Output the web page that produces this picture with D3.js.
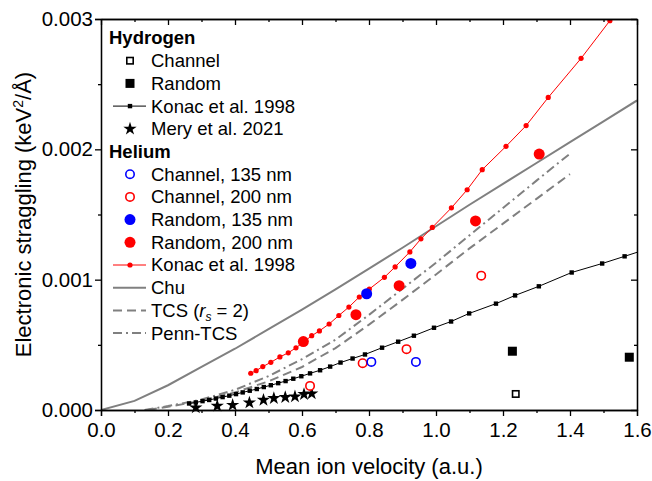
<!DOCTYPE html>
<html>
<head>
<meta charset="utf-8">
<script src="https://cdn.jsdelivr.net/npm/d3@7"></script>
<style>
  body { margin: 0; background: #fff; }
  text { font-family: Arial, "Liberation Sans", sans-serif; }
</style>
</head>
<body>
<div id="chart"></div>
<script>
// Straggling values are kept in units of 1e-3 keV^2/Å (axis labels convert back)

// ---- Hydrogen ----
const hChannelV = [1.238]
const hChannelS = [0.123]
const hRandomV = [1.228, 1.577]
const hRandomS = [0.451, 0.405]

const konacHV = [0.263, 0.283, 0.303, 0.323, 0.343, 0.363, 0.383, 0.403, 0.423, 0.444, 0.465, 0.486,
  0.507, 0.529, 0.551, 0.574, 0.598, 0.624, 0.654, 0.684, 0.715, 0.751, 0.788, 0.839, 0.887, 0.934,
  0.994, 1.045, 1.099, 1.179, 1.236, 1.307, 1.405, 1.496, 1.563, 1.66]
const konacHS = [0.050, 0.058, 0.068, 0.077, 0.088, 0.099, 0.110, 0.122, 0.135, 0.148, 0.161, 0.176,
  0.190, 0.206, 0.222, 0.240, 0.259, 0.281, 0.305, 0.333, 0.364, 0.395, 0.426, 0.478, 0.524, 0.570,
  0.631, 0.679, 0.741, 0.816, 0.879, 0.949, 1.055, 1.124, 1.179, 1.26]

const meryV = [0.283, 0.347, 0.393, 0.443, 0.485, 0.516, 0.550, 0.579, 0.606, 0.629]
const meryS = [0.018, 0.031, 0.038, 0.056, 0.077, 0.090, 0.098, 0.103, 0.121, 0.126]

// ---- Helium ----
const heCh135V = [0.807, 0.940]
const heCh135S = [0.369, 0.369]
const heCh200V = [0.624, 0.781, 0.912, 1.135]
const heCh200S = [0.185, 0.359, 0.467, 1.031]
const heRa135V = [0.793, 0.925]
const heRa135S = [0.892, 1.125]
const heRa200V = [0.604, 0.761, 0.890, 1.118, 1.308]
const heRa200S = [0.525, 0.731, 0.954, 1.451, 1.964]

const konacHeV = [0.447, 0.463, 0.483, 0.507, 0.534, 0.559, 0.582, 0.605, 0.629, 0.652, 0.681, 0.710,
  0.740, 0.771, 0.801, 0.846, 0.878, 0.922, 0.955, 0.989, 1.046, 1.093, 1.138, 1.209, 1.269, 1.335,
  1.433, 1.519]
const konacHeS = [0.282, 0.302, 0.333, 0.366, 0.407, 0.439, 0.477, 0.522, 0.570, 0.607, 0.660, 0.725,
  0.790, 0.867, 0.928, 1.018, 1.098, 1.213, 1.313, 1.401, 1.551, 1.690, 1.844, 2.023, 2.182, 2.398,
  2.698, 2.987]

// ---- theory curves ----
const chuV = [0, 0.1, 0.2, 0.3, 0.4, 0.5, 0.6, 0.7, 0.8, 0.9, 1.0, 1.1, 1.2, 1.3, 1.4, 1.5, 1.6]
const chuS = [0, 0.07, 0.19, 0.33, 0.47, 0.62, 0.77, 0.925, 1.085, 1.245, 1.41, 1.575, 1.735, 1.895, 2.055, 2.215, 2.375]

const tcsV = [0.14, 0.2, 0.3, 0.4, 0.5, 0.6, 0.7, 0.8, 0.9, 1.0, 1.1, 1.2, 1.3, 1.4]
const tcsS = [0, 0.025, 0.07, 0.135, 0.22, 0.33, 0.475, 0.655, 0.845, 1.04, 1.24, 1.43, 1.62, 1.81]

const pennV = [0.13, 0.2, 0.3, 0.4, 0.5, 0.6, 0.7, 0.8, 0.9, 1.0, 1.1, 1.2, 1.3, 1.4]
const pennS = [0, 0.03, 0.08, 0.155, 0.26, 0.39, 0.54, 0.73, 0.93, 1.13, 1.34, 1.55, 1.76, 1.967]

// ---- axes ----
const xTicks = [0, 0.2, 0.4, 0.6, 0.8, 1.0, 1.2, 1.4, 1.6]
const xMinor = [0.1, 0.3, 0.5, 0.7, 0.9, 1.1, 1.3, 1.5]
const yTicks = [0, 1, 2, 3]
const yMinor = [0.5, 1.5, 2.5]

const legendLabels = ["Channel", "Random", "Konac et al. 1998", "Mery et al. 2021",
  "Channel, 135 nm", "Channel, 200 nm", "Random, 135 nm", "Random, 200 nm", "Konac et al. 1998",
  "Chu", "TCS", "Penn-TCS"]

// Dimensiones
const anchoTotal = 652
const altoTotal = 481
const margins = { top: 19, right: 15, bottom: 71, left: 101 }
const ancho = anchoTotal - margins.left - margins.right
const alto = altoTotal - margins.top - margins.bottom

const svg = d3.select("#chart")
  .append("svg")
  .attr("width", anchoTotal)
  .attr("height", altoTotal)

const g = svg.append("g")
  .attr("transform", `translate(${margins.left},${margins.top})`)

const x = d3.scaleLinear().domain([0, 1.6]).range([0, ancho])
const y = d3.scaleLinear().domain([0, 3]).range([alto, 0])

svg.append("defs").append("clipPath").attr("id", "clip")
  .append("rect").attr("width", ancho).attr("height", alto)

const pairs = (vs, ss) => vs.map((v, i) => [v, ss[i]])
const line = d3.line().x(d => x(d[0])).y(d => y(d[1]))

const RED = "#ff0000", BLUE = "#0000ff", GRAY = "#808080"

// ---- lines ----
const plot = g.append("g").attr("clip-path", "url(#clip)")

plot.append("path").datum(pairs(chuV, chuS)).attr("d", line)
  .attr("fill", "none").attr("stroke", GRAY).attr("stroke-width", 2)
plot.append("path").datum(pairs(tcsV, tcsS)).attr("d", line)
  .attr("fill", "none").attr("stroke", GRAY).attr("stroke-width", 2).attr("stroke-dasharray", "9,5")
plot.append("path").datum(pairs(pennV, pennS)).attr("d", line)
  .attr("fill", "none").attr("stroke", GRAY).attr("stroke-width", 2).attr("stroke-dasharray", "9,4,2,4")
plot.append("path").datum(pairs(konacHV, konacHS)).attr("d", line)
  .attr("fill", "none").attr("stroke", "#000").attr("stroke-width", 1)
plot.selectAll(".kh").data(pairs(konacHV, konacHS)).enter().append("rect")
  .attr("x", d => x(d[0]) - 2.2).attr("y", d => y(d[1]) - 2.2)
  .attr("width", 4.4).attr("height", 4.4).attr("fill", "#000")
plot.append("path").datum(pairs(konacHeV, konacHeS)).attr("d", line)
  .attr("fill", "none").attr("stroke", RED).attr("stroke-width", 1)
plot.selectAll(".khe").data(pairs(konacHeV, konacHeS)).enter().append("circle")
  .attr("cx", d => x(d[0])).attr("cy", d => y(d[1])).attr("r", 2.6).attr("fill", RED)

// ---- markers ----
const star = d3.symbol().type(d3.symbolStar).size(55)
g.selectAll(".mery").data(pairs(meryV, meryS)).enter().append("path")
  .attr("d", star).attr("transform", d => `translate(${x(d[0])},${y(d[1])})`).attr("fill", "#000")

const circles = (vs, ss, color, filled) => {
  g.append("g").selectAll("circle").data(pairs(vs, ss)).enter().append("circle")
    .attr("cx", d => x(d[0])).attr("cy", d => y(d[1]))
    .attr("r", filled ? 5.5 : 4.2)
    .attr("fill", filled ? color : "#fff")
    .attr("stroke", filled ? "none" : color)
    .attr("stroke-width", 1.6)
}
circles(heCh200V, heCh200S, RED, false)
circles(heCh135V, heCh135S, BLUE, false)
circles(heRa200V, heRa200S, RED, true)
circles(heRa135V, heRa135S, BLUE, true)

g.selectAll(".hr").data(pairs(hRandomV, hRandomS)).enter().append("rect")
  .attr("x", d => x(d[0]) - 4.5).attr("y", d => y(d[1]) - 4.5)
  .attr("width", 9).attr("height", 9).attr("fill", "#000")
g.selectAll(".hc").data(pairs(hChannelV, hChannelS)).enter().append("rect")
  .attr("x", d => x(d[0]) - 3.2).attr("y", d => y(d[1]) - 3.2)
  .attr("width", 6.4).attr("height", 6.4).attr("fill", "#fff").attr("stroke", "#000").attr("stroke-width", 1.6)

// ---- axes ----
const fmtY = d => (d / 1000).toFixed(3)
const fmtX = d => d.toFixed(1)
const styleAxis = (sel) => {
  sel.selectAll("path").attr("stroke", "#000").attr("stroke-width", 1.3)
  sel.selectAll("line").attr("stroke", "#000").attr("stroke-width", 1.3)
  sel.selectAll("text").attr("font-size", "20.5px").attr("fill", "#000")
}
g.append("g").attr("transform", `translate(0,${alto})`)
  .call(d3.axisBottom(x).tickValues(xTicks).tickFormat(fmtX).tickSize(6).tickPadding(6))
  .call(styleAxis)
g.append("g").attr("transform", `translate(0,${alto})`)
  .call(d3.axisBottom(x).tickValues(xMinor).tickFormat("").tickSize(3).tickSizeOuter(0))
  .call(styleAxis)
g.append("g")
  .call(d3.axisLeft(y).tickValues(yTicks).tickFormat(fmtY).tickSize(6).tickPadding(2))
  .call(styleAxis)
g.append("g")
  .call(d3.axisLeft(y).tickValues(yMinor).tickFormat("").tickSize(3).tickSizeOuter(0))
  .call(styleAxis)
g.append("g")
  .call(d3.axisTop(x).tickValues(xTicks).tickFormat("").tickSizeInner(-6).tickSizeOuter(0))
  .call(styleAxis)
g.append("g")
  .call(d3.axisTop(x).tickValues(xMinor).tickFormat("").tickSizeInner(-3).tickSizeOuter(0))
  .call(styleAxis)
g.append("g").attr("transform", `translate(${ancho},0)`)
  .call(d3.axisRight(y).tickValues(yTicks).tickFormat("").tickSizeInner(-6).tickSizeOuter(0))
  .call(styleAxis)
g.append("g").attr("transform", `translate(${ancho},0)`)
  .call(d3.axisRight(y).tickValues(yMinor).tickFormat("").tickSizeInner(-3).tickSizeOuter(0))
  .call(styleAxis)

// axis titles
svg.append("text")
  .attr("x", margins.left + ancho / 2).attr("y", 474)
  .attr("text-anchor", "middle").attr("font-size", "22px")
  .text("Mean ion velocity (a.u.)")

const yTitle = svg.append("text")
  .attr("transform", `translate(31,${margins.top + alto / 2}) rotate(-90)`)
  .attr("text-anchor", "middle").attr("font-size", "22px")
yTitle.append("tspan").text("Electronic straggling (keV")
yTitle.append("tspan").attr("font-size", "14px").attr("dy", -8).text("2")
yTitle.append("tspan").attr("dy", 8).text("/Å)")

// ---- legend ----
const leg = svg.append("g").attr("font-size", "18.5px")
const legRow = 22.7
const legY0 = 38
const symX = 130
const textX = 151

leg.append("text").attr("x", 109).attr("y", legY0).attr("dy", "0.35em")
  .attr("font-weight", "bold").text("Hydrogen")
leg.append("text").attr("x", 109).attr("y", legY0 + legRow * 5).attr("dy", "0.35em")
  .attr("font-weight", "bold").text("Helium")

const rowOf = (i) => legY0 + legRow * (i < 4 ? i + 1 : i + 2)
legendLabels.forEach((lab, i) => {
  const yy = rowOf(i)
  const t = leg.append("text").attr("x", textX).attr("y", yy).attr("dy", "0.35em")
  if (lab === "TCS") {
    t.append("tspan").text("TCS (")
    t.append("tspan").attr("font-style", "italic").text("r")
    t.append("tspan").attr("font-style", "italic").attr("font-size", "12px").attr("dy", 4).text("s")
    t.append("tspan").attr("dy", -4).text(" = 2)")
  } else {
    t.text(lab)
  }
})

const legLine = (i, color, dash) => leg.append("line")
  .attr("x1", 113).attr("x2", 146).attr("y1", rowOf(i)).attr("y2", rowOf(i))
  .attr("stroke", color).attr("stroke-width", dash === undefined ? 1 : 2)
  .attr("stroke-dasharray", dash || null)

// Hydrogen symbols
leg.append("rect").attr("x", symX - 3.2).attr("y", rowOf(0) - 3.2).attr("width", 6.4).attr("height", 6.4)
  .attr("fill", "#fff").attr("stroke", "#000").attr("stroke-width", 1.6)
leg.append("rect").attr("x", symX - 4.5).attr("y", rowOf(1) - 4.5).attr("width", 9).attr("height", 9).attr("fill", "#000")
legLine(2, "#000")
leg.append("rect").attr("x", symX - 2.2).attr("y", rowOf(2) - 2.2).attr("width", 4.4).attr("height", 4.4).attr("fill", "#000")
leg.append("path").attr("d", star).attr("transform", `translate(${symX},${rowOf(3)})`).attr("fill", "#000")

// Helium symbols
leg.append("circle").attr("cx", symX).attr("cy", rowOf(4)).attr("r", 4.2).attr("fill", "#fff").attr("stroke", BLUE).attr("stroke-width", 1.6)
leg.append("circle").attr("cx", symX).attr("cy", rowOf(5)).attr("r", 4.2).attr("fill", "#fff").attr("stroke", RED).attr("stroke-width", 1.6)
leg.append("circle").attr("cx", symX).attr("cy", rowOf(6)).attr("r", 5.5).attr("fill", BLUE)
leg.append("circle").attr("cx", symX).attr("cy", rowOf(7)).attr("r", 5.5).attr("fill", RED)
legLine(8, RED)
leg.append("circle").attr("cx", symX).attr("cy", rowOf(8)).attr("r", 2.6).attr("fill", RED)
legLine(9, GRAY, "none")
legLine(10, GRAY, "9,5")
legLine(11, GRAY, "9,4,2,4")
</script>
</body>
</html>
